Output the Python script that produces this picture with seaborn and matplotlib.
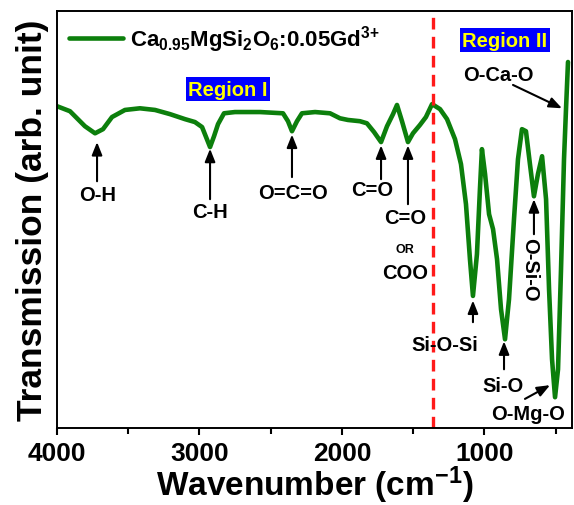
import matplotlib
matplotlib.use("Agg")
import matplotlib.pyplot as plt
import seaborn as sns
import pandas as pd

# FTIR transmission spectrum of Ca0.95MgSi2O6:0.05Gd3+
wavenumber = [4000, 3909, 3804, 3733, 3677, 3614, 3523, 3418, 3312, 3207,
              3102, 3032, 2982, 2954, 2926, 2898, 2870, 2828, 2751, 2575,
              2414, 2379, 2351, 2316, 2281, 2189, 2084, 2014, 1958, 1874,
              1825, 1775, 1726, 1684, 1642, 1614, 1579, 1537, 1502, 1453,
              1411, 1368, 1312, 1263, 1207, 1165, 1130, 1102, 1081, 1053,
              1032, 1018, 996, 968, 940, 912, 884, 856, 828, 793,
              765, 737, 709, 681, 653, 625, 596, 568, 547, 526,
              505, 484, 463, 442, 428, 414]
transmission = [77.2, 76.0, 72.4, 70.7, 71.7, 74.6, 76.3, 76.7, 76.3, 75.3,
                74.1, 73.4, 72.2, 69.8, 67.4, 70.0, 72.9, 75.5, 75.8, 75.8,
                75.5, 73.6, 71.2, 73.6, 75.5, 75.8, 75.5, 74.3, 73.9, 73.6,
                73.1, 71.0, 68.6, 72.4, 75.3, 77.5, 73.6, 68.6, 70.7, 72.7,
                74.6, 77.7, 76.5, 74.1, 69.3, 63.3, 53.7, 40.5, 31.7, 41.7,
                57.3, 66.9, 60.9, 51.3, 47.7, 40.5, 28.5, 21.3, 30.9, 50.1,
                64.5, 71.7, 71.2, 63.3, 55.6, 60.9, 65.2, 54.9, 33.3, 16.5,
                7.4, 14.1, 38.1, 64.5, 76.5, 87.8]

# band assignments: label, arrow tip (x, y), arrow tail (x, y), label position (x, y)
band_labels = ["O-H", "C-H", "O=C=O", "C=O", "C=O", "Si-O-Si", "Si-O", "O-Mg-O", "O-Si-O", "O-Ca-O"]
arrow_tips = [(3719, 68.6), (2926, 67.0), (2351, 70.4), (1726, 67.8), (1537, 67.8),
              (1081, 30.6), (863, 20.8), (540, 10.3), (653, 54.9), (456, 76.7)]
arrow_tails = [(3719, 59.2), (2926, 54.9), (2351, 60.2), (1726, 59.7), (1537, 53.7),
               (1081, 25.4), (863, 14.1), (716, 7.0), (653, 46.5), (800, 82.3)]
label_pos = [(3712, 56.1), (2926, 52.0), (2344, 56.4), (1789, 57.3), (1558, 50.6),
             (1277, 20.1), (870, 10.3), (695, 3.4), (681, 38.1), (905, 84.9)]

region_boundary = 1360
legend_label = r"Ca$_{0.95}$MgSi$_2$O$_6$:0.05Gd$^{3{+}}$"

sns.set_style("ticks")
plt.rcParams["font.family"] = ["Liberation Sans", "DejaVu Sans"]
plt.rcParams["font.weight"] = "bold"
plt.rcParams["text.color"] = "black"
plt.rcParams["axes.labelcolor"] = "black"
plt.rcParams["xtick.color"] = "black"
plt.rcParams["mathtext.fontset"] = "custom"
plt.rcParams["mathtext.rm"] = "Liberation Sans:bold"
plt.rcParams["mathtext.bf"] = "Liberation Sans:bold"
plt.rcParams["mathtext.it"] = "Liberation Sans:bold"
plt.rcParams["mathtext.default"] = "regular"

fig = plt.figure(figsize=(5.74, 5.06), dpi=100)
ax = fig.add_axes([0.0993, 0.152, 0.8972, 0.824])

df = pd.DataFrame({"Wavenumber": wavenumber, "Transmission": transmission})
green = "#0c7f0c"
sns.lineplot(data=df, x="Wavenumber", y="Transmission", ax=ax, color=green,
             linewidth=3.3, estimator=None, label=legend_label)

ax.axvline(region_boundary, color="#ff1a1a", linewidth=2.4, linestyle=(0, (3.5, 2.2)))

ax.set_xlim(4000, 386)
ax.set_ylim(0, 100)
ax.set_xticks([4000, 3000, 2000, 1000])
ax.set_xticks([3500, 2500, 1500, 500], minor=True)
ax.set_yticks([])
ax.tick_params(axis="x", which="major", direction="out", length=5, width=1.5,
               labelsize=19, pad=4, colors="black")
ax.tick_params(axis="x", which="minor", direction="out", length=4, width=1.5, colors="black")
for lbl in ax.get_xticklabels():
    lbl.set_fontweight("bold")
for sp in ax.spines.values():
    sp.set_visible(True)
    sp.set_linewidth(1.4)
    sp.set_color("black")

ax.set_xlabel(r"Wavenumber (cm$^{\mathregular{-1}}$)", fontsize=24, fontweight="bold", labelpad=-1)
ax.set_ylabel("Transmission (arb. unit)", fontsize=25.5, fontweight="bold", labelpad=6)

leg = ax.legend(loc="upper left", frameon=False, fontsize=16, handlelength=2.4,
                handletextpad=0.35, borderaxespad=0.1, borderpad=0.45)
for line in leg.get_lines():
    line.set_linewidth(3.3)

# arrows and band labels
arrow_kw = dict(arrowstyle="-|>,head_length=0.55,head_width=0.22", color="black",
                lw=1.5, shrinkA=0, shrinkB=0, mutation_scale=14)
for name, tip, tail, pos in zip(band_labels, arrow_tips, arrow_tails, label_pos):
    ax.annotate("", xy=tip, xytext=tail, arrowprops=arrow_kw)
    rot = -90 if name == "O-Si-O" else 0
    ax.text(pos[0], pos[1], name, ha="center", va="center", fontsize=14.5,
            fontweight="bold", rotation=rot)

ax.text(1558, 42.9, "OR", ha="center", va="center", fontsize=9, fontweight="bold")
ax.text(1558, 37.4, "COO", ha="center", va="center", fontsize=14.5, fontweight="bold")

# region tags
box = dict(boxstyle="square,pad=0.12", facecolor="#0000ff", edgecolor="none")
ax.text(2800, 81.3, "Region I", ha="center", va="center", fontsize=14.5,
        fontweight="bold", color="#ffff00", bbox=box)
ax.text(856, 93.0, "Region II", ha="center", va="center", fontsize=14.5,
        fontweight="bold", color="#ffff00", bbox=box)

fig.savefig("out.png", dpi=100)
